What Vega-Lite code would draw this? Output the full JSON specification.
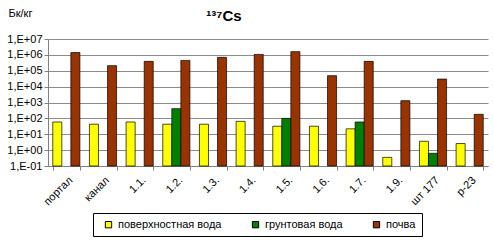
{
  "$schema": "https://vega.github.io/schema/vega-lite/v6.json",
  "autosize": "none",
  "width": 440,
  "height": 127,
  "padding": {"left": 48, "top": 39, "right": 6, "bottom": 74},
  "background": "white",
  "title": {"text": "¹³⁷Cs", "anchor": "middle", "dx": -44, "dy": 17, "offset": 0, "fontSize": 15, "font": "Liberation Sans", "fontWeight": "bold", "color": "black"},
  "data": {"values": [
    {"site": "портал", "type": "поверхностная вода", "v": 59},
    {"site": "портал", "type": "почва", "v": 1400000},
    {"site": "канал", "type": "поверхностная вода", "v": 43},
    {"site": "канал", "type": "почва", "v": 210000},
    {"site": "1.1.", "type": "поверхностная вода", "v": 59},
    {"site": "1.1.", "type": "почва", "v": 390000},
    {"site": "1.2.", "type": "поверхностная вода", "v": 43},
    {"site": "1.2.", "type": "грунтовая вода", "v": 410},
    {"site": "1.2.", "type": "почва", "v": 450000},
    {"site": "1.3.", "type": "поверхностная вода", "v": 43},
    {"site": "1.3.", "type": "почва", "v": 700000},
    {"site": "1.4.", "type": "поверхностная вода", "v": 65},
    {"site": "1.4.", "type": "почва", "v": 1070000},
    {"site": "1.5.", "type": "поверхностная вода", "v": 32},
    {"site": "1.5.", "type": "грунтовая вода", "v": 100},
    {"site": "1.5.", "type": "почва", "v": 1600000},
    {"site": "1.6.", "type": "поверхностная вода", "v": 32},
    {"site": "1.6.", "type": "почва", "v": 49000},
    {"site": "1.7.", "type": "поверхностная вода", "v": 22},
    {"site": "1.7.", "type": "грунтовая вода", "v": 59},
    {"site": "1.7.", "type": "почва", "v": 390000},
    {"site": "1.9.", "type": "поверхностная вода", "v": 0.35},
    {"site": "1.9.", "type": "почва", "v": 1300},
    {"site": "шт 177", "type": "поверхностная вода", "v": 3.6},
    {"site": "шт 177", "type": "грунтовая вода", "v": 0.63},
    {"site": "шт 177", "type": "почва", "v": 30000},
    {"site": "р-23", "type": "поверхностная вода", "v": 2.6},
    {"site": "р-23", "type": "почва", "v": 180}
  ]},
  "mark": {"type": "bar", "stroke": "black", "strokeWidth": 0.7},
  "encoding": {
    "x": {
      "field": "site", "type": "nominal", "sort": null,
      "scale": {"paddingInner": 0.26, "paddingOuter": 0.13},
      "axis": {"title": null, "labelAngle": -45, "labelAlign": "right", "labelBaseline": "top", "labelFont": "Liberation Sans", "labelFontSize": 11, "labelColor": "black", "tickBand": "extent", "tickColor": "#808080", "tickSize": 4, "domainColor": "#808080", "labelPadding": 4, "grid": false}
    },
    "xOffset": {"field": "type", "type": "nominal", "sort": ["поверхностная вода", "грунтовая вода", "почва"], "scale": {"paddingInner": 0, "paddingOuter": 0}},
    "y": {
      "field": "v", "type": "quantitative",
      "scale": {"type": "log", "domain": [0.1, 10000000], "nice": false},
      "axis": {
        "title": "Бк/кг", "titleAngle": 0, "titleX": -40, "titleY": -26, "titleAlign": "left", "titleBaseline": "middle", "titleFont": "Liberation Sans", "titleFontSize": 11, "titleFontWeight": "normal", "titleColor": "black",
        "values": [0.1, 1, 10, 100, 1000, 10000, 100000, 1000000, 10000000],
        "labelExpr": "'1,E' + (round(log(datum.value)/LN10) < 0 ? '-' : '+') + (abs(round(log(datum.value)/LN10)) < 10 ? '0' : '') + abs(round(log(datum.value)/LN10))",
        "labelFont": "Liberation Sans", "labelFontSize": 11, "labelColor": "black",
        "grid": true, "gridColor": "#8c8c8c", "gridWidth": 1, "tickColor": "#808080", "tickSize": 4, "domainColor": "#808080", "labelPadding": 2
      }
    },
    "y2": {"datum": 0.1},
    "color": {
      "field": "type", "type": "nominal",
      "scale": {"domain": ["поверхностная вода", "грунтовая вода", "почва"], "range": ["#FFFF00", "#008000", "#993300"]},
      "legend": {
        "title": null, "orient": "none", "legendX": 45, "legendY": 174, "direction": "horizontal", "columns": 3,
        "symbolType": "square", "symbolSize": 40, "symbolStrokeColor": "black", "symbolStrokeWidth": 1,
        "labelFont": "Liberation Sans", "labelFontSize": 11, "labelColor": "black", "columnPadding": 24,
        "strokeColor": "black", "fillColor": "white", "padding": 6, "symbolOffset": 4
      }
    }
  },
  "config": {"view": {"stroke": null}}
}
